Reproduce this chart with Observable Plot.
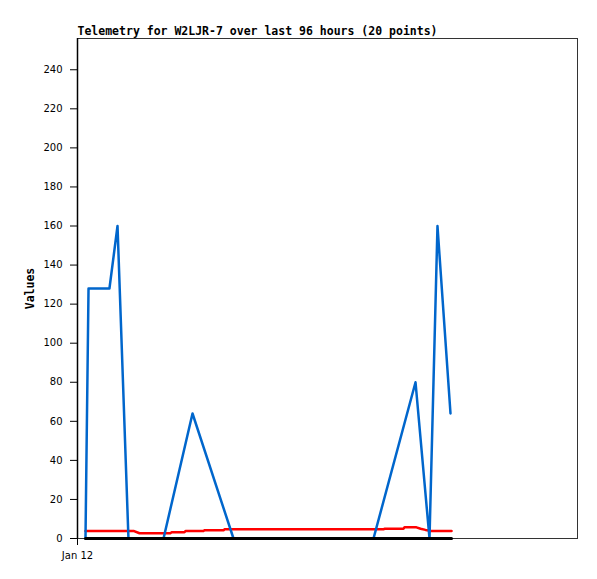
<!DOCTYPE html>
<html><head><meta charset="utf-8">
<script src="https://cdn.jsdelivr.net/npm/d3@7"></script>
<script src="https://cdn.jsdelivr.net/npm/@observablehq/plot@0.6"></script>
<style>body{margin:0;background:#fff}</style>
</head><body><div id="chart"></div>
<script>
const title = "Telemetry for W2LJR-7 over last 96 hours (20 points)";
const yLabel = "Values";
const yTicks = [0, 20, 40, 60, 80, 100, 120, 140, 160, 180, 200, 220, 240];
const xTicks = ["2024-01-12T00:00Z"];
const xTickLabels = ["Jan 12"];
const xDomain = ["2024-01-12T00:00Z", "2024-01-16T00:00Z"];

const blueTimes = ["2024-01-12T01:32Z","2024-01-12T02:07Z","2024-01-12T06:08Z","2024-01-12T07:41Z","2024-01-12T09:47Z",
  "2024-01-12T16:31Z","2024-01-12T22:05Z","2024-01-13T05:57Z","2024-01-14T08:50Z","2024-01-14T16:54Z",
  "2024-01-14T19:35Z","2024-01-14T21:07Z","2024-01-14T23:37Z"];
const blueValues = [0, 128, 128, 160, 0, 0, 64, 0, 0, 80, 0, 160, 64];

const redTimes = ["2024-01-12T01:32Z","2024-01-12T10:45Z","2024-01-12T11:54Z","2024-01-12T17:52Z","2024-01-12T18:03Z",
  "2024-01-12T20:32Z","2024-01-12T20:44Z","2024-01-13T00:11Z","2024-01-13T00:23Z","2024-01-13T04:02Z",
  "2024-01-13T04:13Z","2024-01-14T10:45Z","2024-01-14T10:56Z","2024-01-14T14:35Z","2024-01-14T14:47Z",
  "2024-01-14T17:05Z","2024-01-14T17:52Z","2024-01-14T18:49Z","2024-01-14T19:47Z","2024-01-14T23:49Z"];
const redValues = [3.9, 3.9, 2.7, 2.7, 3.2, 3.2, 3.8, 3.8, 4.2, 4.2, 4.7, 4.7, 5.0, 5.0, 5.7, 5.7, 5.0, 4.4, 3.9, 3.9];

const blackTimes = ["2024-01-12T01:32Z", "2024-01-14T23:49Z"];
const blackValues = [0, 0];

const toRows = (ts, vs) => ts.map((t, i) => ({t: new Date(t), v: vs[i]}));
const blue = toRows(blueTimes, blueValues);
const red = toRows(redTimes, redValues);
const black = toRows(blackTimes, blackValues);

const chart = Plot.plot({
  width: 597,
  height: 579,
  marginLeft: 77,
  marginRight: 20,
  marginTop: 38,
  marginBottom: 41,
  style: {fontFamily: "DejaVu Sans", fontSize: "10px", background: "#fff", color: "#000"},
  x: {type: "utc", domain: xDomain.map(d => new Date(d))},
  y: {domain: [0, 256]},
  marks: [
    Plot.frame({stroke: "#333", strokeWidth: 1}),
    Plot.axisY({ticks: yTicks, tickSize: 7, tickPadding: 8, label: null, tickFormat: d => String(d)}),
    Plot.axisX({ticks: xTicks.map(d => new Date(d)), tickSize: 7, tickPadding: 6, label: null,
      tickFormat: (d, i) => xTickLabels[i]}),
    Plot.line(red, {x: "t", y: "v", stroke: "#ff0000", strokeWidth: 2.5}),
    Plot.line(blue, {x: "t", y: "v", stroke: "#0066cc", strokeWidth: 2.5}),
    Plot.line(black, {x: "t", y: "v", stroke: "#000", strokeWidth: 3}),
    Plot.ruleX([new Date(xDomain[0])], {stroke: "#000", strokeWidth: 1.5}),
    Plot.text([title], {frameAnchor: "top-left", dy: -4, textAnchor: "start", lineAnchor: "bottom",
      fontFamily: "DejaVu Sans Mono", fontWeight: "bold", fontSize: 11.5, fill: "#000"}),
    Plot.text([yLabel], {frameAnchor: "left", dx: -47, rotate: -90, textAnchor: "middle", lineAnchor: "middle",
      fontFamily: "DejaVu Sans Mono", fontWeight: "bold", fontSize: 11.5, fill: "#000"})
  ]
});
document.getElementById("chart").appendChild(chart);
</script>
</body></html>
